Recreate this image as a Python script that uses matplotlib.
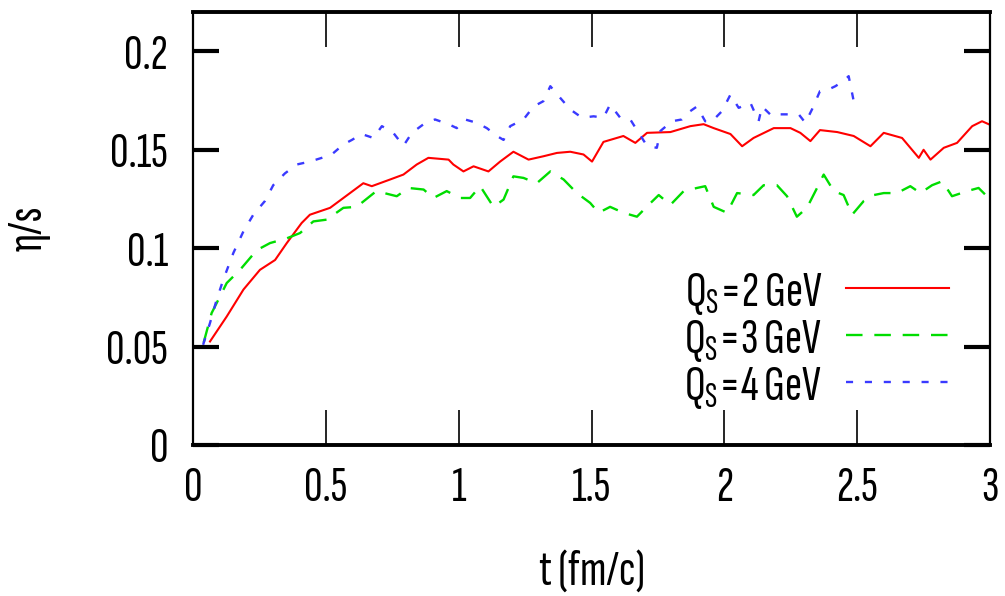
import matplotlib
matplotlib.use("Agg")
import matplotlib.pyplot as plt
from matplotlib import font_manager

names = {f.name for f in font_manager.fontManager.ttflist}
FONT = next((n for n in ["Sofia Sans Extra Condensed", "Roboto Condensed", "Liberation Sans"] if n in names), "DejaVu Sans")
plt.rcParams['font.family'] = [FONT, 'DejaVu Sans']
plt.rcParams['mathtext.fontset'] = 'custom'
plt.rcParams['mathtext.rm'] = FONT
plt.rcParams['mathtext.it'] = FONT
plt.rcParams['mathtext.default'] = 'regular'

# ---- data ----
t_red = [0.064, 0.127, 0.19, 0.252, 0.309, 0.353, 0.409, 0.44, 0.516, 0.566, 0.641, 0.673,
         0.742, 0.792, 0.842, 0.886, 0.962, 0.98, 1.018, 1.056, 1.112, 1.156, 1.206, 1.263,
         1.319, 1.37, 1.42, 1.47, 1.502, 1.545, 1.62, 1.665, 1.709, 1.797, 1.872, 1.922,
         1.96, 2.023, 2.067, 2.11, 2.186, 2.249, 2.286, 2.324, 2.36, 2.425, 2.487, 2.55,
         2.6, 2.669, 2.732, 2.75, 2.776, 2.826, 2.876, 2.933, 2.97, 2.995]
v_red = [0.0526, 0.0653, 0.079, 0.089, 0.094, 0.1026, 0.1128, 0.117, 0.1205, 0.1255, 0.133, 0.1315,
         0.1349, 0.1374, 0.1425, 0.1459, 0.145, 0.1425, 0.139, 0.1416, 0.139, 0.144, 0.149, 0.145,
         0.1467, 0.1484, 0.149, 0.1476, 0.144, 0.154, 0.157, 0.1535, 0.1586, 0.159, 0.162, 0.163,
         0.161, 0.158, 0.1518, 0.156, 0.161, 0.161, 0.1586, 0.1544, 0.160, 0.159, 0.157, 0.1518,
         0.1586, 0.156, 0.1459, 0.150, 0.145, 0.151, 0.1535, 0.162, 0.1645, 0.163]

t_green = [0.04, 0.07, 0.127, 0.177, 0.24, 0.29, 0.353, 0.403, 0.453, 0.503, 0.566, 0.616,
           0.69, 0.767, 0.811, 0.868, 0.905, 0.955, 1.006, 1.043, 1.081, 1.131, 1.169, 1.206,
           1.244, 1.294, 1.345, 1.395, 1.445, 1.495, 1.527, 1.57, 1.62, 1.671, 1.715, 1.753,
           1.797, 1.847, 1.897, 1.928, 1.96, 2.01, 2.048, 2.11, 2.148, 2.198, 2.236, 2.273,
           2.311, 2.349, 2.374, 2.412, 2.449, 2.481, 2.525, 2.563, 2.6, 2.65, 2.7, 2.738,
           2.782, 2.82, 2.857, 2.914, 2.957, 2.995]
v_green = [0.052, 0.067, 0.0823, 0.089, 0.099, 0.1026, 0.105, 0.1077, 0.1136, 0.1145, 0.1205, 0.121,
           0.129, 0.1264, 0.1306, 0.1298, 0.1255, 0.129, 0.1255, 0.1255, 0.1315, 0.121, 0.1247, 0.1365,
           0.1357, 0.133, 0.139, 0.1349, 0.128, 0.123, 0.118, 0.121, 0.118, 0.116, 0.122, 0.127,
           0.122, 0.129, 0.1306, 0.1315, 0.121, 0.118, 0.128, 0.127, 0.132, 0.132, 0.1264, 0.116,
           0.1205, 0.1306, 0.1374, 0.129, 0.127, 0.117, 0.124, 0.127, 0.128, 0.128, 0.1315, 0.128,
           0.132, 0.134, 0.1264, 0.129, 0.1306, 0.1255]

t_blue = [0.038, 0.064, 0.089, 0.114, 0.152, 0.19, 0.227, 0.271, 0.302, 0.346, 0.39, 0.44,
          0.485, 0.522, 0.566, 0.598, 0.635, 0.679, 0.711, 0.754, 0.792, 0.824, 0.868, 0.911,
          0.962, 0.993, 1.024, 1.068, 1.106, 1.144, 1.169, 1.194, 1.244, 1.282, 1.319, 1.345,
          1.382, 1.42, 1.464, 1.508, 1.545, 1.57, 1.608, 1.646, 1.671, 1.709, 1.746, 1.759,
          1.803, 1.84, 1.865, 1.897, 1.928, 1.954, 1.991, 2.023, 2.054, 2.098, 2.129, 2.142,
          2.18, 2.211, 2.242, 2.28, 2.305, 2.33, 2.36, 2.393, 2.418, 2.449, 2.468, 2.487]
v_blue = [0.0509, 0.062, 0.0738, 0.084, 0.0976, 0.1086, 0.117, 0.124, 0.132, 0.138, 0.1425, 0.144,
          0.1459, 0.1476, 0.1527, 0.155, 0.158, 0.156, 0.162, 0.1586, 0.152, 0.1586, 0.163, 0.1654,
          0.163, 0.161, 0.1654, 0.1637, 0.161, 0.157, 0.155, 0.162, 0.1654, 0.172, 0.1747, 0.1823,
          0.1764, 0.1705, 0.1663, 0.167, 0.1663, 0.173, 0.1663, 0.1654, 0.160, 0.152, 0.151, 0.1595,
          0.1645, 0.1654, 0.169, 0.172, 0.1645, 0.1645, 0.1696, 0.178, 0.1713, 0.1739, 0.1645, 0.172,
          0.167, 0.168, 0.168, 0.168, 0.1637, 0.1705, 0.1798, 0.1807, 0.1823, 0.185, 0.1874, 0.1747]

labels = ["Q$_S$=2 GeV", "Q$_S$=3 GeV", "Q$_S$=4 GeV"]
xticks = [0, 0.5, 1, 1.5, 2, 2.5, 3]
xticklabels = ["0", "0.5", "1", "1.5", "2", "2.5", "3"]
yticks = [0, 0.05, 0.1, 0.15, 0.2]
yticklabels = ["0", "0.05", "0.1", "0.15", "0.2"]

FS = 37

# ---- figure ----
fig = plt.figure(figsize=(10.05, 5.96), dpi=100)
ax = fig.add_axes([193/1005, (596-445)/596, 797/1005, 433/596])

ax.plot(t_red, v_red, color='#ff0000', lw=1.5, ls='-', label=labels[0])
ax.plot(t_green, v_green, color='#00dd00', lw=1.7, ls=(0, (7, 5)), label=labels[1])
ax.plot(t_blue, v_blue, color='#3a3aff', lw=1.7, ls=(0, (3, 5)), label=labels[2])

ax.set_xlim(0, 3)
ax.set_ylim(0, 0.22)
ax.set_xticks(xticks)
ax.set_xticklabels(xticklabels)
ax.set_yticks(yticks)
ax.set_yticklabels(yticklabels)

for side in ['top', 'bottom']:
    ax.spines[side].set_linewidth(2.8)
for side in ['left', 'right']:
    ax.spines[side].set_linewidth(1.6)

ax.tick_params(axis='x', direction='in', length=25, width=1.2, top=True,
               labelsize=FS, pad=15)
ax.tick_params(axis='y', direction='in', length=19, width=3.0, right=True,
               labelsize=FS, pad=18)

ax.set_xlabel("t (fm/c)", fontsize=FS, labelpad=29)
ax.set_ylabel("η/s", fontsize=FS, labelpad=40)

leg = ax.legend(loc='upper right', bbox_to_anchor=(0.9486, 0.403), frameon=False,
                markerfirst=False, fontsize=FS, handlelength=2.0, handletextpad=0.47,
                labelspacing=0.0, borderaxespad=0, borderpad=0)

fig.savefig("out.png", dpi=100)
